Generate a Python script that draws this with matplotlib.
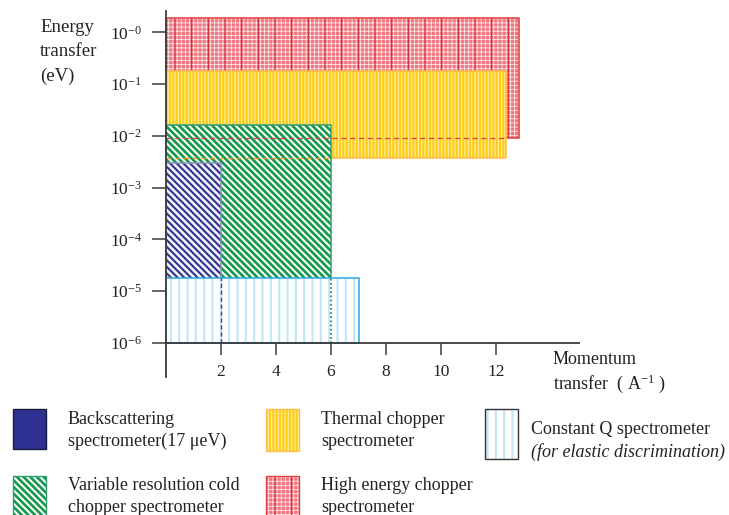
import matplotlib.pyplot as plt
from matplotlib.patches import Rectangle
from matplotlib.ticker import NullLocator

plt.rcParams['font.family'] = ['Liberation Serif', 'DejaVu Serif']
plt.rcParams['mathtext.fontset'] = 'custom'
plt.rcParams['mathtext.rm'] = 'Liberation Serif'
plt.rcParams['mathtext.it'] = 'Liberation Serif:italic'

BS = chr(92)  # backslash, for the diagonal hatch

# instrument coverage, back to front
instruments = ['high_energy', 'thermal', 'cold', 'backscattering', 'constant_q']
q_max = [12.84, 12.36, 6.0, 2.0, 7.03]          # momentum transfer (A^-1)
e_min = [9.0e-3, 3.8e-3, 1.0e-6, 1.0e-6, 1.0e-6]  # energy transfer (eV)
e_max = [1.95, 0.18, 1.65e-2, 3.0e-3, 1.8e-5]

q_ticks = [2, 4, 6, 8, 10, 12]
e_ticks = [1e-6, 1e-5, 1e-4, 1e-3, 1e-2, 1e-1, 1e0]
e_ticklabels = ['$10^{-6}$', '$10^{-5}$', '$10^{-4}$', '$10^{-3}$',
                '$10^{-2}$', '$10^{-1}$', '$10^{-0}$']

# face, hatch, hatch colour, hatch width, outline, extra hatch layer
styles = {
    'high_energy': dict(face='#f07780', hatch='++++', hc='#fde6e8', hlw=0.6,
                        edge='#e23b3b', extra=('|', '#d92a36', 0.8)),
    'thermal': dict(face='#ffcd1c', hatch='|||||', hc='#fff3b5', hlw=0.7,
                    edge='#ffbd4a', extra=None),
    'cold': dict(face='white', hatch=BS * 5, hc='#14994a', hlw=1.9,
                 edge='#2f9c72', extra=None),
    'backscattering': dict(face='#f2f2fa', hatch=BS * 5, hc='#2e3192', hlw=1.5,
                           edge='#8c8ec2', extra=None),
    'constant_q': dict(face='white', hatch='||', hc='#c4e7f8', hlw=1.6,
                       edge='#29a9e1', extra=None),
}

legend_rows = [
    ('backscattering', 'Backscattering', 'spectrometer(17 μeV)', 12.7, 409, 40),
    ('thermal', 'Thermal chopper', 'spectrometer', 266, 409, 42),
    ('constant_q', 'Constant Q spectrometer', '(for elastic discrimination)', 485, 409, 50),
    ('cold', 'Variable resolution cold', 'chopper spectrometer', 12.7, 476, 45),
    ('high_energy', 'High energy chopper', 'spectrometer', 266, 476, 45),
]

W, H = 729, 515
fig = plt.figure(figsize=(W / 100, H / 100), dpi=100)
fig.patch.set_facecolor('white')

# pixel layout of the plot area: q=0 at x0, 1e-6 at y0
x0, px_q = 165.6, 27.55
y0, px_dec = 342.7, 51.7

ax = fig.add_axes([0, 0, 1, 1])
ax.set_facecolor('none')
ax.set_yscale('log')
ax.set_xlim(-x0 / px_q, (W - x0) / px_q)
ax.set_ylim(10 ** (-6 - (H - y0) / px_dec), 10 ** (-6 + y0 / px_dec))


def hatched_bar(axis, q, lo, hi, st):
    with plt.rc_context({'hatch.linewidth': st['hlw']}):
        axis.bar(0, hi - lo, width=q, bottom=lo, align='edge', color=st['face'],
                 edgecolor=st['hc'], hatch=st['hatch'], linewidth=0)
    if st['extra'] is not None:
        h, c, lw = st['extra']
        with plt.rc_context({'hatch.linewidth': lw}):
            axis.bar(0, hi - lo, width=q, bottom=lo, align='edge', color='none',
                     edgecolor=c, hatch=h, linewidth=0)
    axis.bar(0, hi - lo, width=q, bottom=lo, align='edge', color='none',
             edgecolor=st['edge'], linewidth=1.1)


for name, q, lo, hi in zip(instruments, q_max, e_min, e_max):
    hatched_bar(ax, q, lo, hi, styles[name])

# hidden edges shown through the overlapping areas
ax.plot([0, q_max[1]], [e_min[0], e_min[0]], color='#d94040', lw=0.9, ls=(0, (4, 3)))
ax.plot([0, q_max[2]], [e_min[1], e_min[1]], color='#f29a1a', lw=0.9, ls=(0, (4, 3)))
ax.plot([q_max[3], q_max[3]], [e_min[3], e_max[4]], color='#3d3f9a', lw=1.0, ls=(0, (3, 2)))
ax.plot([q_max[2], q_max[2]], [e_min[2], e_max[4]], color='#2a6e4a', lw=1.2, ls=(0, (1, 1.5)))

# axes crossing at (0, 1e-6)
for s in ['top', 'right']:
    ax.spines[s].set_visible(False)
ax.spines['left'].set_position(('data', 0))
ax.spines['left'].set_bounds(10 ** (-6 - 34 / px_dec), 10 ** (-6 + 332 / px_dec))
ax.spines['bottom'].set_position(('data', 1e-6))
ax.spines['bottom'].set_bounds(0, 15.0)
for s in ['left', 'bottom']:
    ax.spines[s].set_color('#3c3c3c')
    ax.spines[s].set_linewidth(1.3)
    ax.spines[s].set_zorder(5)

ax.set_xticks(q_ticks)
ax.set_xticklabels([str(t) for t in q_ticks])
ax.set_yticks(e_ticks)
ax.set_yticklabels(e_ticklabels)
ax.yaxis.set_minor_locator(NullLocator())
ax.tick_params(axis='x', direction='out', length=8.6, width=1.1, pad=7,
               labelsize=12.5, color='#3c3c3c', labelcolor='#222222')
ax.tick_params(axis='y', direction='out', length=10, width=1.1, pad=7,
               labelsize=12.5, color='#3c3c3c', labelcolor='#222222')

fig.text(40 / W, 1 - 27 / H, 'Energy', fontsize=13.5, va='center', color='#222222')
fig.text(40 / W, 1 - 52 / H, 'transfer', fontsize=13.5, va='center', color='#222222')
fig.text(40 / W, 1 - 76 / H, '(eV)', fontsize=13.5, va='center', color='#222222')
fig.text(553 / W, 1 - 360 / H, 'Momentum', fontsize=13, va='center', color='#222222')
fig.text(553 / W, 1 - 384 / H, 'transfer  ( A$^{-1}$ )', fontsize=13, va='center',
         color='#222222')

# legend drawn in pixel space
lax = fig.add_axes([0, 0, 1, 1])
lax.set_xlim(0, W)
lax.set_ylim(H, 0)
lax.axis('off')
for name, line1, line2, bx, by, bh in legend_rows:
    st = styles[name]
    if name == 'backscattering':
        lax.add_patch(Rectangle((bx, by), 33.5, bh, facecolor='#2e3192',
                                edgecolor='#1c1c40', lw=1.0))
    else:
        with plt.rc_context({'hatch.linewidth': st['hlw']}):
            lax.add_patch(Rectangle((bx, by), 33.5, bh, facecolor=st['face'],
                                    edgecolor=st['hc'], hatch=st['hatch'], lw=0))
        if st['extra'] is not None:
            h, c, lw = st['extra']
            with plt.rc_context({'hatch.linewidth': lw}):
                lax.add_patch(Rectangle((bx, by), 33.5, bh, facecolor='none',
                                        edgecolor=c, hatch=h, lw=0))
        edge = '#333333' if name == 'constant_q' else st['edge']
        lax.add_patch(Rectangle((bx, by), 33.5, bh, facecolor='none',
                                edgecolor=edge, lw=1.0))
    tx = bx + (55 if name != 'constant_q' else 46)
    ty = by + (10 if name != 'constant_q' else 21)
    lax.text(tx, ty, line1, fontsize=13, va='center', color='#222222')
    lax.text(tx, ty + 22, line2, fontsize=13, va='center', color='#222222',
             style='italic' if name == 'constant_q' else 'normal')

fig.savefig('out.png', dpi=100)
